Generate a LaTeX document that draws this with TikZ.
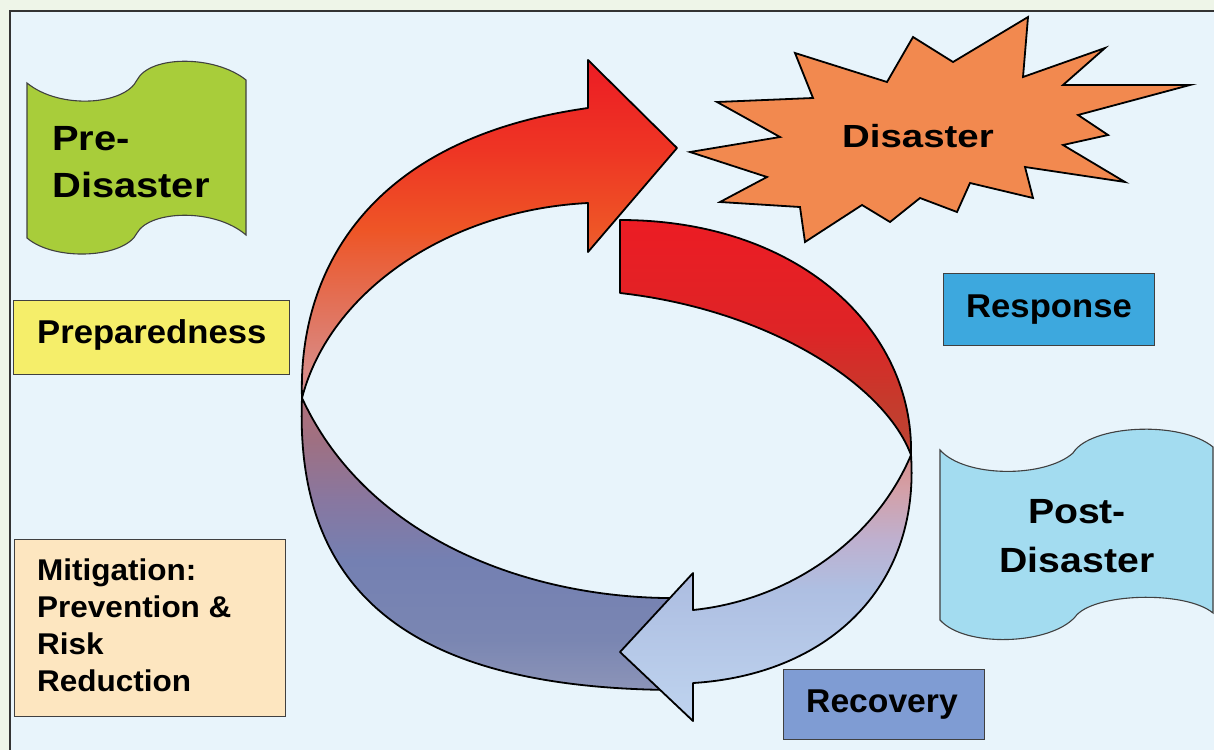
\documentclass[tikz,border=0pt]{standalone}
\usepackage{fontspec}
\setmainfont{Liberation Sans}
\usepackage{graphicx}
\newcommand{\hs}[2]{\scalebox{#1}[1]{#2}}

\definecolor{outerbg}{HTML}{EEF5E8}
\definecolor{innerbg}{HTML}{E8F4FB}
\definecolor{precol}{HTML}{A8CD3A}
\definecolor{postcol}{HTML}{A3DCF0}
\definecolor{prepcol}{HTML}{F5EE6A}
\definecolor{mitcol}{HTML}{FDE6C0}
\definecolor{respcol}{HTML}{3DA8DE}
\definecolor{reccol}{HTML}{7F9CD3}
\definecolor{burstcol}{HTML}{F2894F}

\definecolor{ra1}{HTML}{CF8E94}
\definecolor{ra2}{HTML}{D98A84}
\definecolor{ra3}{HTML}{E36F55}
\definecolor{ra4}{HTML}{EE5526}
\definecolor{ra5}{HTML}{EE3524}
\definecolor{ra6}{HTML}{EC1C24}
\pgfdeclareverticalshading{redarrowsh}{100bp}{color(0bp)=(ra1); color(25bp)=(ra1); color(29bp)=(ra2); color(39.5bp)=(ra3); color(50bp)=(ra4); color(61.7bp)=(ra5); color(75bp)=(ra6); color(100bp)=(ra6)}

\definecolor{rb1}{HTML}{BB4535}
\definecolor{rb2}{HTML}{C63A2C}
\definecolor{rb3}{HTML}{DE2426}
\definecolor{rb4}{HTML}{EC1C24}
\pgfdeclareverticalshading{redbacksh}{100bp}{color(0bp)=(rb1); color(25bp)=(rb1); color(36.7bp)=(rb2); color(51.6bp)=(rb3); color(75bp)=(rb4); color(100bp)=(rb4)}

\definecolor{ba1}{HTML}{BFD4EF}
\definecolor{ba2}{HTML}{AEBFE2}
\definecolor{ba3}{HTML}{BEB0CF}
\definecolor{ba4}{HTML}{D3A0A8}
\definecolor{ba5}{HTML}{D8908C}
\pgfdeclareverticalshading{bluearrowsh}{100bp}{color(0bp)=(ba1); color(25bp)=(ba1); color(49.7bp)=(ba2); color(59.1bp)=(ba3); color(68.4bp)=(ba4); color(75bp)=(ba5); color(100bp)=(ba5)}

\definecolor{db1}{HTML}{8C94B8}
\definecolor{db2}{HTML}{7A86B2}
\definecolor{db3}{HTML}{7480B2}
\definecolor{db4}{HTML}{8877A0}
\definecolor{db5}{HTML}{9F7082}
\definecolor{db6}{HTML}{B0707A}
\pgfdeclareverticalshading{darkbandsh}{100bp}{color(0bp)=(db1); color(25bp)=(db1); color(33.6bp)=(db2); color(47.3bp)=(db3); color(57.5bp)=(db4); color(67.8bp)=(db5); color(75bp)=(db6); color(100bp)=(db6)}

\begin{document}
\begin{tikzpicture}[x=1pt,y=-1pt,
  band/.style={draw=black, line width=1.8pt, line join=round},
  boxst/.style={draw=black!75, line width=1.3pt, anchor=north west, inner sep=0pt},
  wavest/.style={draw=black!75, line width=1.1pt},
  lbl/.style={inner sep=0pt, font=\bfseries}]
\useasboundingbox (0,0) rectangle (1214,750);
\fill[outerbg] (0,0) rectangle (1214,750);
\fill[innerbg] (10,11) rectangle (1214,750);
\draw[line width=2pt, black!80] (1214,11) -- (10,11) -- (10,750);

% boxes
\node[boxst, fill=prepcol, minimum width=276pt, minimum height=74pt] (prepbox) at (13,300) {};
\node[boxst, fill=mitcol, minimum width=271pt, minimum height=177pt] (mitbox) at (14,539) {};
\node[boxst, fill=respcol, minimum width=211pt, minimum height=72pt] (respbox) at (943,273) {};
\node[boxst, fill=reccol, minimum width=201pt, minimum height=70pt] (recbox) at (783,669) {};

% wave shapes
\draw[wavest, fill=precol] (27,83) .. controls (60,110) and (125,105) .. (137,80)
  .. controls (150,55) and (215,55) .. (246,80) -- (246,235)
  .. controls (215,208) and (150,210) .. (137,233)
  .. controls (125,258) and (55,262) .. (27,238) -- cycle;
\draw[wavest, fill=postcol] (940,450) .. controls (965,478) and (1045,478) .. (1073,453)
  .. controls (1090,425) and (1180,420) .. (1213,447) -- (1213,613)
  .. controls (1185,590) and (1092,593) .. (1075,617)
  .. controls (1050,645) and (965,648) .. (940,620) -- cycle;

% burst
\draw[fill=burstcol, draw=black, line width=1.8pt, line join=miter]
  (690,152) -- (780,137) -- (717,102) -- (813,98) -- (795,53) -- (887,82) -- (913,37)
  -- (953,62) -- (1028,17) -- (1023,77) -- (1105,48) -- (1063,85) -- (1190,85)
  -- (1078,115) -- (1108,135) -- (1063,145) -- (1125,182) -- (1025,167) -- (1033,198)
  -- (970,183) -- (957,212) -- (920,198) -- (890,222) -- (862,205) -- (805,242)
  -- (800,207) -- (720,202) -- (767,177) -- cycle;

% cycle bands
\path[band, shade, shading=darkbandsh] (302,398) .. controls (294,600) and (420,690) .. (680,690)
  -- (680,598) .. controls (540,600) and (370,545) .. (302,398) -- cycle;
\path[band, shade, shading=redbacksh] (620,220) .. controls (800,220) and (914,330) .. (911,455)
  .. controls (885,385) and (770,310) .. (620,293) -- cycle;
\path[band, shade, shading=redarrowsh] (302,398) .. controls (298,280) and (360,140) .. (588,108)
  -- (588,60) -- (677,148) -- (588,252) -- (588,203)
  .. controls (450,210) and (330,290) .. (302,398) -- cycle;
\path[band, shade, shading=bluearrowsh] (911,455) .. controls (920,590) and (825,675) .. (693,683)
  -- (693,721) -- (620,652) -- (693,573) -- (693,610)
  .. controls (790,600) and (875,540) .. (911,455) -- cycle;

% labels
\node[lbl, anchor=base west] (pretext) at (52,197)
  {\fontsize{35}{47}\selectfont\hs{1.14}{\begin{tabular}[b]{@{}l@{}}Pre-\\Disaster\end{tabular}}};
\node[lbl, anchor=base west] (preptext) at (37,343)
  {\fontsize{33}{38}\selectfont\hs{1.05}{Preparedness}};
\node[lbl, anchor=base west] (mittext) at (37,691)
  {\fontsize{30}{37}\selectfont\hs{1.05}{\begin{tabular}[b]{@{}l@{}}Mitigation:\\Prevention \&\\Risk\\Reduction\end{tabular}}};
\node[lbl, anchor=base] (disastertext) at (918,147)
  {\fontsize{32}{38}\selectfont\hs{1.2}{Disaster}};
\node[lbl, anchor=base] (resptext) at (1049,317)
  {\fontsize{33}{38}\selectfont\hs{1.05}{Response}};
\node[lbl, anchor=base] (posttext) at (1077,572)
  {\fontsize{35}{49}\selectfont\hs{1.12}{\begin{tabular}[b]{@{}c@{}}Post-\\Disaster\end{tabular}}};
\node[lbl, anchor=base] (rectext) at (882,712)
  {\fontsize{33}{38}\selectfont\hs{1.02}{Recovery}};
\end{tikzpicture}
\end{document}
